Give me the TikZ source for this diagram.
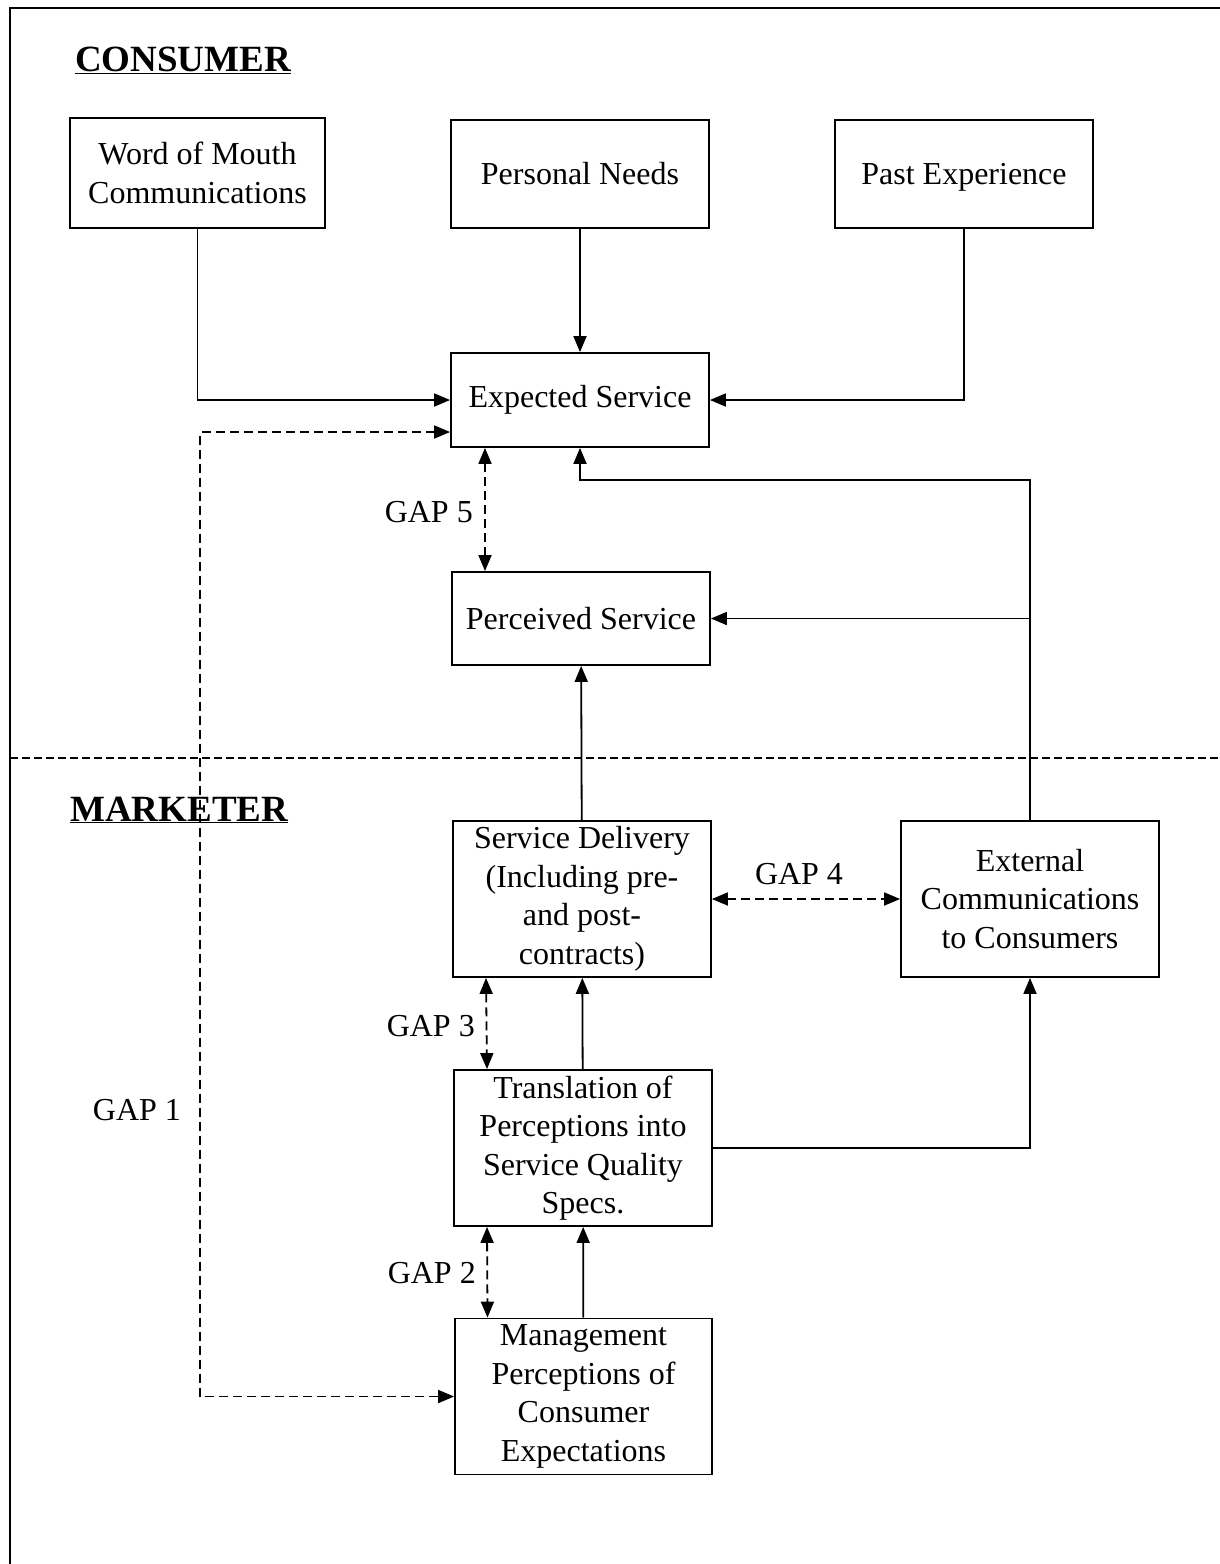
\documentclass[tikz,border=0pt]{standalone}
\usepackage{fontspec}
\setmainfont{Liberation Serif}
\usetikzlibrary{arrows.meta}

\begin{document}
\begin{tikzpicture}[x=1pt,y=-1pt,
  box/.style={draw,line width=1.8pt,minimum width=258pt,minimum height=108pt,align=center,inner sep=0pt,font=\fontsize{32}{38.5}\selectfont},
  tall/.style={box,minimum height=156pt},
  link/.style={line width=1.8pt,-{Triangle[length=16pt,width=13pt]}},
  gap/.style={line width=1.8pt,dash pattern=on 9pt off 5pt,{Triangle[length=16pt,width=13pt]}-{Triangle[length=16pt,width=13pt]}},
  gaplabel/.style={font=\fontsize{32}{38.5}\selectfont,inner sep=0pt},
  heading/.style={font=\fontsize{37}{44}\selectfont\bfseries,inner sep=0pt}]
\useasboundingbox (0,0) rectangle (1219,1564);
% frame and divider
\draw[line width=2.4pt] (10,1570) -- (10,8) -- (1225,8);
\draw[line width=2pt,dash pattern=on 8pt off 4pt] (10,758) -- (1225,758);
\node[heading,anchor=base west] (consumer) at (75,71) {\underline{CONSUMER}};
\node[heading,anchor=base west] (marketer) at (70,821) {\underline{MARKETER}};

% consumer side
\node[box,minimum width=255pt,minimum height=110pt] (wom) at (197.5,173) {Word of Mouth\\Communications};
\node[box] (needs) at (580,174) {Personal Needs};
\node[box,text depth=0pt] (past) at (964,174) {Past Experience};
\node[box,minimum height=94pt] (expected) at (580,400) {Expected Service};
\node[box,minimum height=93pt] (perceived) at (581,618.5) {Perceived Service};

% marketer side
\node[tall] (delivery) at (582,899) {Service Delivery\\(Including pre-\\and post-\\contracts)};
\node[tall] (extcom) at (1030,899) {External\\Communications\\to Consumers};
\node[tall] (specs) at (583,1148) {Translation of\\Perceptions into\\Service Quality\\Specs.};
\node[tall,minimum width=257pt] (mgmt) at (583.5,1396.5) {Management\\Perceptions of\\Consumer\\Expectations};

% arrows
\draw[link] (wom.south) |- (expected.west);
\draw[link] (needs) -- (expected);
\draw[link] (past.south) |- (expected.east);
\draw[link] (extcom.north) |- ([yshift=-32pt]expected.south) -- (expected.south);
\draw[link] (extcom.north |- perceived.east) -- (perceived.east);
\draw[link] (delivery) -- (perceived);
\draw[link] (specs) -- (delivery);
\draw[link] (specs.east) -| (extcom.south);
\draw[link] (mgmt) -- (specs);

% gaps
\draw[gap] ([yshift=-32pt]expected.west) -- ++(-250,0) |- (mgmt.west);
\draw[gap] ([xshift=-95pt]expected.south) -- ([xshift=-96pt]perceived.north);
\draw[gap] (delivery.east) -- (extcom.west);
\draw[gap] ([xshift=-96pt]delivery.south) -- ([xshift=-96pt]specs.north);
\draw[gap] ([xshift=-96pt]specs.south) -- ([xshift=-96pt]mgmt.north);
\node[gaplabel] (gap1) at (137,1110) {GAP 1};
\node[gaplabel,anchor=east] (gap2) at (476,1273) {GAP 2};
\node[gaplabel,anchor=east] (gap3) at (475,1026) {GAP 3};
\node[gaplabel] (gap4) at (799,874) {GAP 4};
\node[gaplabel,anchor=east] (gap5) at (473,512) {GAP 5};
\end{tikzpicture}
\end{document}
